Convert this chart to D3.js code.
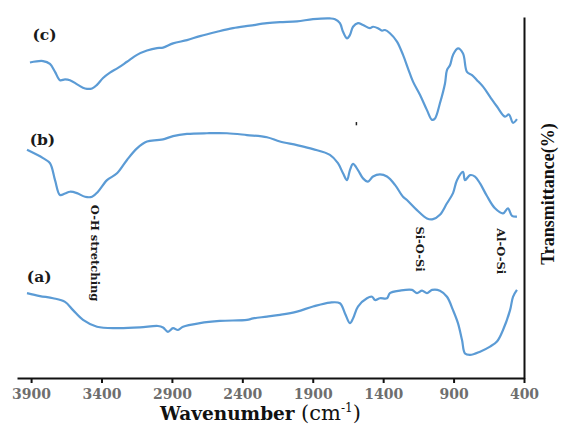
<!DOCTYPE html>
<html>
<head>
<meta charset="utf-8">
<script src="https://cdn.jsdelivr.net/npm/d3@7"></script>
<style>
  body { margin: 0; background: #fff; }
  svg { display: block; }
</style>
</head>
<body>
<svg id="chart" width="563" height="430"></svg>
<script>
// ticks on the wavenumber axis
const xTicks = [3900, 3400, 2900, 2400, 1900, 1400, 900, 400];

// spectrum (a)
const wnA = [3929, 3837, 3744, 3659, 3602, 3531, 3432, 3290, 3127, 2999, 2963, 2928, 2892, 2857, 2821,
  2701, 2559, 2367, 2324, 2225, 2133, 2012, 1898, 1778, 1707, 1671, 1636, 1614, 1579, 1515, 1479,
  1458, 1423, 1373, 1352, 1280, 1195, 1160, 1124, 1089, 1053, 997, 947, 904, 869, 840, 819, 783,
  712, 641, 592, 549, 499, 478, 450];
const tA = [23.5, 22.7, 22.1, 21.1, 18.8, 16.1, 14.2, 13.8, 14.0, 14.4, 14.0, 12.8, 13.8, 13.3, 14.2,
  15.2, 15.8, 16.1, 16.5, 17.0, 17.5, 18.4, 19.8, 20.9, 20.7, 17.9, 15.2, 16.5, 19.8, 22.1, 22.5,
  21.6, 22.1, 22.1, 23.5, 24.2, 24.4, 23.5, 24.2, 23.5, 24.4, 24.2, 22.5, 18.8, 15.2, 10.5, 6.8, 6.4,
  7.3, 8.7, 10.1, 13.3, 18.8, 22.5, 24.4];

// spectrum (b)
const wnB = [3929, 3815, 3766, 3730, 3695, 3659, 3624, 3574, 3517, 3467, 3425, 3361, 3290, 3219, 3148,
  3077, 3006, 2963, 2892, 2793, 2651, 2509, 2367, 2225, 2133, 2012, 1898, 1778, 1721, 1685, 1657,
  1636, 1614, 1579, 1543, 1508, 1472, 1423, 1373, 1316, 1259, 1231, 1160, 1089, 1046, 997, 947,
  904, 876, 833, 819, 783, 748, 712, 663, 606, 549, 514, 485, 450];
const tB = [63.2, 60.9, 59.5, 54.8, 50.7, 51.1, 51.6, 51.2, 50.2, 50.2, 51.6, 54.8, 56.7, 60.4, 63.6,
  65.5, 65.9, 66.1, 67.0, 67.6, 67.8, 67.8, 67.3, 66.7, 65.5, 64.5, 63.4, 61.8, 59.5, 56.7, 54.8,
  57.6, 59.3, 57.6, 55.3, 54.4, 55.8, 56.4, 55.8, 53.5, 50.2, 49.3, 46.5, 44.2, 44.0, 45.2, 48.4,
  51.2, 54.8, 57.1, 54.8, 56.2, 55.8, 53.9, 50.4, 47.0, 45.6, 47.0, 44.9, 44.7];

// spectrum (c)
const wnC = [3908, 3815, 3766, 3730, 3695, 3659, 3624, 3567, 3517, 3467, 3432, 3389, 3340, 3283, 3219,
  3148, 3077, 3006, 2963, 2892, 2793, 2701, 2580, 2466, 2346, 2225, 2133, 2012, 1898, 1778, 1742,
  1707, 1685, 1657, 1636, 1614, 1579, 1543, 1494, 1472, 1437, 1408, 1387, 1352, 1302, 1259, 1224,
  1188, 1138, 1089, 1053, 1032, 997, 961, 947, 925, 904, 869, 833, 805, 769, 734, 691, 641, 592,
  535, 507, 478, 450];
const tC = [87.4, 87.8, 87.0, 84.8, 82.5, 82.7, 82.5, 81.2, 80.2, 80.2, 81.2, 83.1, 84.6, 85.9, 87.6,
  89.5, 90.7, 91.4, 91.5, 92.7, 93.6, 94.7, 95.9, 96.9, 97.6, 98.3, 98.6, 98.8, 99.4, 99.6, 99.4,
  98.3, 95.9, 94.1, 95.0, 97.3, 98.3, 97.8, 96.9, 97.3, 96.9, 96.2, 96.4, 95.5, 93.2, 89.5, 85.8,
  82.1, 78.4, 74.2, 71.5, 71.9, 76.1, 81.6, 85.3, 86.7, 89.5, 91.3, 89.9, 84.8, 83.9, 82.5, 80.7, 77.9, 75.2,
  72.4, 73.0, 70.7, 71.7];

const seriesNames = ["(a)", "(b)", "(c)"];
const bands = [
  { text: "O-H stretching", wn: 3445, t: 48 },
  { text: "Si-O-Si", wn: 1140, t: 42 },
  { text: "Al-O-Si", wn: 565, t: 41.5 }
];

const svg = d3.select("#chart");
const x = d3.scaleLinear().domain([4000, 400]).range([17, 524]);
const y = d3.scaleLinear().domain([0, 100]).range([378, 17]);

// bottom axis
const xAxis = svg.append("g")
  .attr("transform", `translate(0,${y(0)})`)
  .call(d3.axisBottom(x).tickValues(xTicks).tickFormat(d3.format("d"))
    .tickSizeOuter(0).tickSizeInner(5).tickPadding(6));
xAxis.select(".domain").attr("stroke", "#111").attr("stroke-width", 2);
xAxis.selectAll(".tick line").attr("stroke", "#111").attr("stroke-width", 2);
xAxis.selectAll(".tick text")
  .attr("fill", "#6e6e6e")
  .style("font-family", "'DejaVu Serif', serif")
  .style("font-weight", "bold")
  .style("font-size", "14px");

// right frame line
const yAxis = svg.append("g")
  .attr("transform", `translate(${x(400)},0)`)
  .call(d3.axisLeft(y).ticks(0).tickSizeOuter(0));
yAxis.select(".domain").attr("stroke", "#111").attr("stroke-width", 2);

// spectra
const line = d3.line()
  .x(d => x(d[0]))
  .y(d => y(d[1]))
  .curve(d3.curveCatmullRom.alpha(0.5));

const spectra = [d3.zip(wnA, tA), d3.zip(wnB, tB), d3.zip(wnC, tC)];
svg.append("g")
  .selectAll("path")
  .data(spectra)
  .join("path")
  .attr("d", line)
  .attr("fill", "none")
  .attr("stroke", "#5b9bd5")
  .attr("stroke-width", 2.2)
  .attr("stroke-linejoin", "round");

// series labels
const labelPos = [[3930, 26.5], [3910, 64.5], [3890, 93.5]];
svg.append("g")
  .selectAll("text")
  .data(seriesNames)
  .join("text")
  .attr("x", (d, i) => x(labelPos[i][0]))
  .attr("y", (d, i) => y(labelPos[i][1]))
  .attr("fill", "#1a1a1a")
  .style("font-family", "'DejaVu Serif', serif")
  .style("font-weight", "bold")
  .style("font-size", "15.5px")
  .text(d => d);

// band annotations, rotated
svg.append("g")
  .selectAll("text")
  .data(bands)
  .join("text")
  .attr("transform", d => `translate(${x(d.wn)},${y(d.t)}) rotate(90)`)
  .attr("fill", "#1a1a1a")
  .attr("dy", "0.35em")
  .style("font-family", "'DejaVu Serif', serif")
  .style("font-weight", "bold")
  .style("font-size", "11.5px")
  .text(d => d.text);

// small stray mark
svg.append("line")
  .attr("x1", x(1590)).attr("x2", x(1590))
  .attr("y1", y(70.9)).attr("y2", y(70.0))
  .attr("stroke", "#222").attr("stroke-width", 1.5);

// axis titles
const xt = svg.append("text")
  .attr("x", 160)
  .attr("y", 420)
  .attr("fill", "#111")
  .style("font-family", "'DejaVu Serif', serif")
  .style("font-weight", "bold");
xt.append("tspan").style("font-size", "18.5px").text("Wavenumber ");
xt.append("tspan").style("font-size", "21px").style("font-weight", "normal").text("(cm");
xt.append("tspan").style("font-size", "12px").style("font-weight", "normal").attr("dy", -8).text("-1");
xt.append("tspan").style("font-size", "21px").style("font-weight", "normal").attr("dy", 8).text(")");

svg.append("text")
  .attr("transform", "translate(554,194) rotate(-90)")
  .attr("text-anchor", "middle")
  .attr("fill", "#111")
  .style("font-family", "'Liberation Serif', serif")
  .style("font-weight", "bold")
  .style("font-size", "18px")
  .text("Transmittance(%)");
</script>
</body>
</html>
